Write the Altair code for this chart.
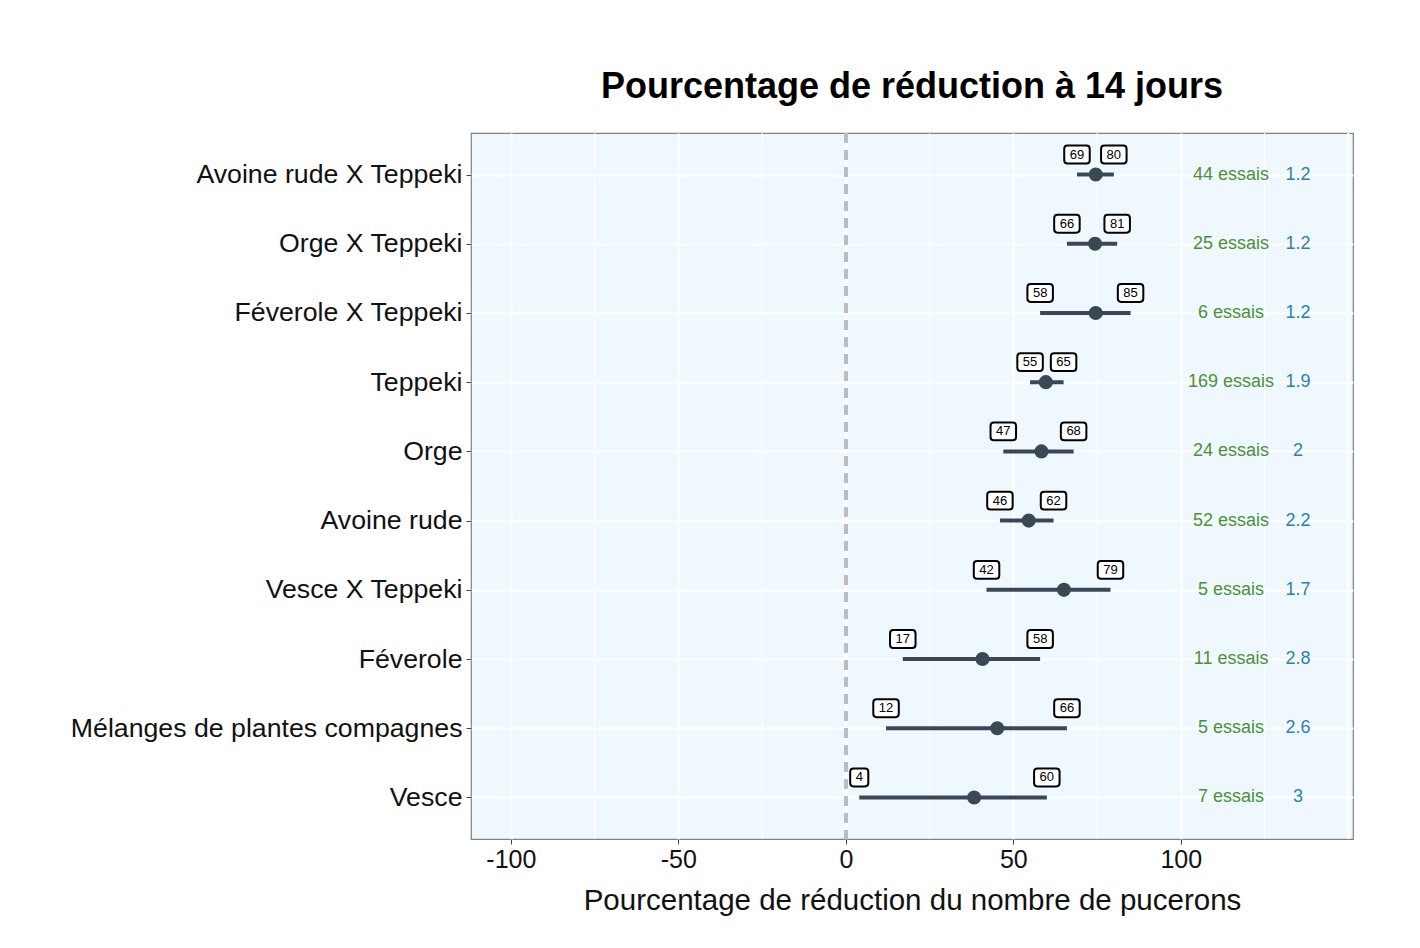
import altair as alt
import pandas as pd

categories = ["Avoine rude X Teppeki", "Orge X Teppeki", "Féverole X Teppeki", "Teppeki",
              "Orge", "Avoine rude", "Vesce X Teppeki", "Féverole",
              "Mélanges de plantes compagnes", "Vesce"]
means = [74.6, 74.4, 74.6, 59.7, 58.4, 54.6, 65.1, 40.8, 45.2, 38.3]
lowers = [69, 66, 58, 55, 47, 46, 42, 17, 12, 4]
uppers = [80, 81, 85, 65, 68, 62, 79, 58, 66, 60]
essais = [44, 25, 6, 169, 24, 52, 5, 11, 5, 7]
scores = ["1.2", "1.2", "1.2", "1.9", "2", "2.2", "1.7", "2.8", "2.6", "3"]
major_ticks = [-100, -50, 0, 50, 100]
extra_major = [150]
minor_ticks = [-75, -25, 25, 75, 125]
essais_x = 115
score_x = 135

df = pd.DataFrame({
    "cat": categories, "mean": means, "lower": lowers, "upper": uppers,
    "essais": [f"{e} essais" for e in essais], "score": scores,
})
df["ex"] = essais_x
df["sx"] = score_x

lab = pd.concat([
    pd.DataFrame({"cat": categories, "v": lowers}),
    pd.DataFrame({"cat": categories, "v": uppers}),
])
lab["txt"] = lab["v"].astype(str)
lab["nd"] = lab["txt"].str.len().astype(str)

minor_df = pd.DataFrame({"m": minor_ticks})
extra_df = pd.DataFrame({"m": extra_major})

xscale = alt.Scale(domain=[-111.9, 151.4], nice=False, zero=False)
yscale = alt.Scale(type="point", padding=0.6, domain=categories)

X = lambda f: alt.X(f, type="quantitative", scale=xscale,
                    axis=alt.Axis(values=major_ticks, title="Pourcentage de réduction du nombre de pucerons",
                                  grid=True, gridColor="white", gridWidth=2.2,
                                  labelFontSize=25, titleFontSize=29.5, labelColor="#111111",
                                  titleColor="#111111", tickColor="#444444", tickSize=5,
                                  labelPadding=3, titlePadding=14, domain=False,
                                  labelExpr="toString(datum.value)",
                                  labelFont="Liberation Sans", titleFont="Liberation Sans",
                                  titleFontWeight="normal"))
Y = alt.Y("cat:N", scale=yscale, sort=categories,
          axis=alt.Axis(title=None, grid=True, gridColor="white", gridWidth=2.2,
                        labelFontSize=26.7, labelColor="#111111", tickColor="#444444",
                        tickSize=5, labelPadding=4, domain=False,
                        labelFont="Liberation Sans", labelLimit=1000))

minor = alt.Chart(minor_df).mark_rule(color="white", strokeWidth=1.1).encode(
    x=alt.X("m:Q", scale=xscale))
extra = alt.Chart(extra_df).mark_rule(color="white", strokeWidth=2.2).encode(
    x=alt.X("m:Q", scale=xscale))

zero_line = alt.Chart(df).mark_rule(color="#BDBDBD", strokeWidth=3, strokeDash=[10, 7]).encode(
    x=alt.datum(0, scale=xscale))

bars = alt.Chart(df).mark_rule(color="#3A4856", strokeWidth=4).encode(
    x=X("lower"), x2="upper", y=Y)

pts = alt.Chart(df).mark_circle(color="#3A4856", opacity=1, size=200).encode(
    x=X("mean"), y=Y)

long_box = ("M -0.74 -0.70 L 0.74 -0.70 Q 1 -0.70 1 -0.44 L 1 0.44 Q 1 0.70 0.74 0.70 "
            "L -0.74 0.70 Q -1 0.70 -1 0.44 L -1 -0.44 Q -1 -0.70 -0.74 -0.70 Z")
short_box = ("M -0.45 -0.70 L 0.45 -0.70 Q 0.71 -0.70 0.71 -0.44 L 0.71 0.44 Q 0.71 0.70 0.45 0.70 "
             "L -0.45 0.70 Q -0.71 0.70 -0.71 0.44 L -0.71 -0.44 Q -0.71 -0.70 -0.45 -0.70 Z")

boxes = alt.Chart(lab).mark_point(filled=False, fill="white", fillOpacity=1, stroke="black",
                                  strokeWidth=2, size=650, opacity=1, yOffset=-20).encode(
    x=X("v"), y=Y,
    shape=alt.Shape("nd:N", scale=alt.Scale(domain=["1", "2"], range=[short_box, long_box]), legend=None))

labels = alt.Chart(lab).mark_text(fontSize=13, color="black", yOffset=-20, baseline="middle",
                                  align="center", font="Liberation Sans").encode(
    x=X("v"), y=Y, text="txt:N")

ess = alt.Chart(df).mark_text(fontSize=18, color="#4A9237", baseline="middle", align="center",
                              font="Liberation Sans").encode(x=X("ex"), y=Y, text="essais:N")
sc = alt.Chart(df).mark_text(fontSize=18, color="#2C7FB5", baseline="middle", align="center",
                             font="Liberation Sans").encode(x=X("sx"), y=Y, text="score:N")

chart = alt.layer(minor, extra, zero_line, bars, pts, boxes, labels, ess, sc).properties(
    width=882, height=706,
    title=alt.TitleParams("Pourcentage de réduction à 14 jours", fontSize=36, fontWeight="bold",
                          font="Liberation Sans", anchor="middle", offset=26, color="black"),
    padding={"left": 463, "top": 125, "right": 40, "bottom": 94},
    autosize=alt.AutoSizeParams(type="none"),
    background="white",
).configure_view(fill="#F0F8FF", stroke="#808080", strokeWidth=1.2)

chart.save("out.html", embed_options={"renderer": "svg", "actions": False})
